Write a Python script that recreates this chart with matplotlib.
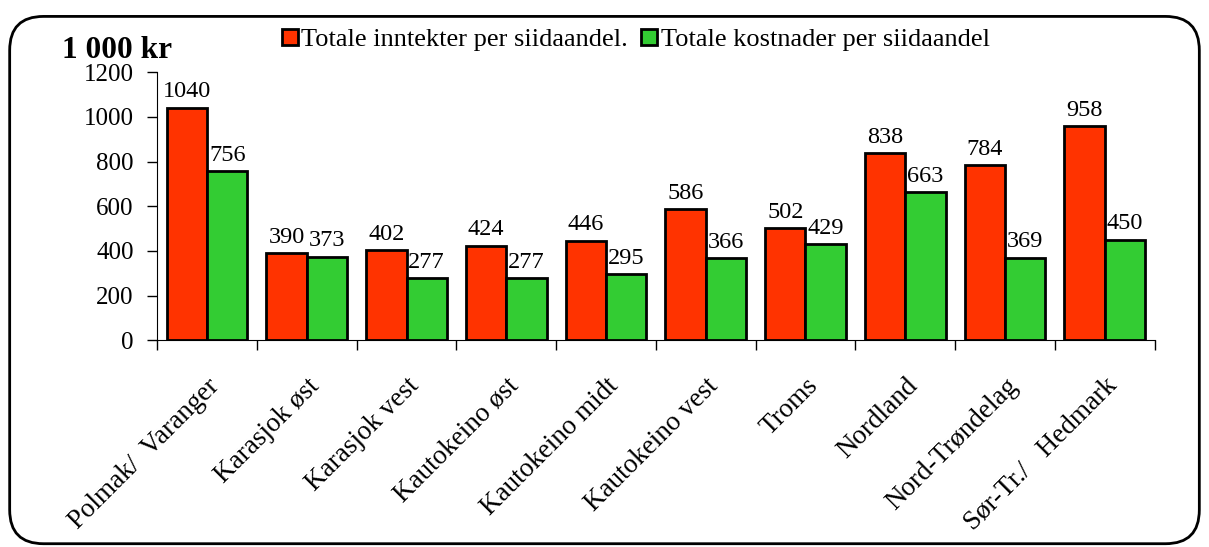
import numpy as np
import matplotlib
matplotlib.use("Agg")
import matplotlib.pyplot as plt
from matplotlib.patches import FancyBboxPatch

plt.rcParams['font.family'] = ['Liberation Serif', 'DejaVu Serif']

regions = ["Polmak/  Varanger", "Karasjok øst", "Karasjok vest", "Kautokeino øst",
           "Kautokeino midt", "Kautokeino vest", "Troms", "Nordland",
           "Nord-Trøndelag", "Sør-Tr./   Hedmark"]
inntekter = [1040, 390, 402, 424, 446, 586, 502, 838, 784, 958]
kostnader = [756, 373, 277, 277, 295, 366, 429, 663, 369, 450]

fig = plt.figure(figsize=(12.09, 5.47), dpi=100)
ax = fig.add_axes([0.130, 0.378, 0.825, 0.490])

# rounded frame round the whole chart
frame = FancyBboxPatch((0.008, 0.006), 0.984, 0.964, boxstyle="round,pad=0,rounding_size=0.028",
                       transform=fig.transFigure, fill=False, edgecolor="black", linewidth=2,
                       mutation_aspect=1209 / 547)
fig.patches.append(frame)

x = np.arange(len(regions))
w = 0.405
b1 = ax.bar(x - w / 2, inntekter, w, color="#ff3300", edgecolor="black", linewidth=2,
            label="Totale inntekter per siidaandel.")
b2 = ax.bar(x + w / 2, kostnader, w, color="#33cc33", edgecolor="black", linewidth=2,
            label="Totale kostnader per siidaandel")
ax.bar_label(b1, padding=4, fontsize=17.5)
ax.bar_label(b2, padding=4, fontsize=17.5)

ax.set_xlim(-0.5, len(regions) - 0.5)
ax.set_ylim(0, 1200)
ax.set_yticks(range(0, 1201, 200))
ax.tick_params(axis="y", labelsize=18, direction="out", length=7, width=1, pad=10)
ax.set_xticks(x)
ax.set_xticklabels(regions, rotation=45, ha="right", rotation_mode="anchor", fontsize=19.5)
ax.tick_params(axis="x", length=0, pad=24)
ax.set_xticks(np.arange(-0.5, len(regions)), minor=True)
ax.tick_params(axis="x", which="minor", direction="out", length=7, width=1)
ax.spines["top"].set_visible(False)
ax.spines["right"].set_visible(False)

fig.text(0.051, 0.908, "1 000 kr", fontsize=22.5, fontweight="bold", va="center")
ax.legend(loc="center", bbox_to_anchor=(0.48, 1.12), ncol=2, frameon=False, fontsize=19,
          handlelength=0.6, handleheight=0.6, handletextpad=0.15, columnspacing=0.5)

fig.savefig("out.png", dpi=100)
